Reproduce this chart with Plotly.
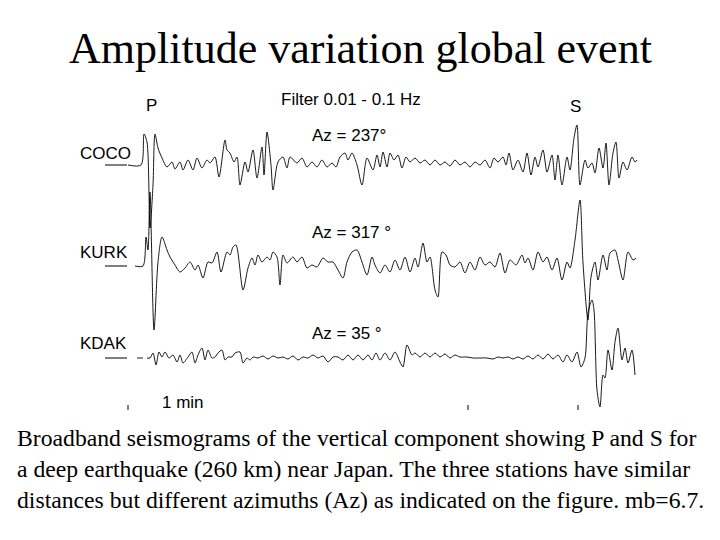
import plotly.graph_objects as go

# ---------------- data ----------------
# time samples (trace time units) and amplitudes (up positive) for each station
coco_t = [128, 141, 144, 147, 150, 153, 155, 158, 162, 167, 172, 175, 180, 183, 188, 193, 197, 202, 207, 210,
          215, 219, 225, 227, 230, 234, 237, 240, 245, 248, 253, 257, 262, 264, 267, 271, 273, 278, 283, 287,
          290, 297, 302, 307, 312, 317, 322, 327, 332, 336, 340, 345, 348, 352, 357, 362, 367, 373, 377, 380,
          383, 387, 390, 394, 398, 402, 406, 410, 415, 420, 425, 430, 435, 440, 445, 450, 455, 460, 465, 470,
          475, 480, 485, 490, 494, 498, 503, 506, 509, 513, 518, 523, 527, 531, 535, 538, 543, 547, 552, 555,
          558, 562, 567, 570, 574, 577, 580, 585, 588, 592, 595, 599, 603, 606, 609, 613, 616, 619, 623, 627,
          632, 635, 637]
coco_a = [0, 0, 31, 23, -63, -20, 31, 17, 7, -2, 3, -4, 3, -5, 5, -5, 7, -3, 5, 2,
          8, -12, 25, 15, 12, 3, 8, -20, 3, -7, 15, -13, 18, -10, 33, 0, -25, 3, 8, -3,
          8, 2, 7, -2, 3, -2, 5, -2, 2, -2, 8, 12, 5, 12, 0, -20, 7, -5, 10, -2,
          13, -2, 12, 5, 10, -3, 8, 3, 7, 2, 5, 0, 5, 0, 3, -1, 5, 0, 3, -2,
          3, 0, 5, -3, 7, 3, 8, 0, 12, -5, 5, -7, 12, -10, 8, -2, 15, -7, 10, -15,
          10, -20, 8, -5, 27, 40, -20, 5, -3, 2, -8, 17, -3, 22, -20, 12, 23, -13, 3, -5,
          8, 3, 5]

kurk_t = [135, 143, 146, 148, 150, 154, 158, 162, 167, 170, 175, 180, 185, 190, 195, 198, 203, 208, 212, 217,
          221, 227, 230, 233, 236, 243, 248, 252, 255, 258, 262, 267, 270, 273, 277, 280, 283, 287, 293, 297,
          302, 307, 312, 317, 323, 328, 333, 338, 343, 347, 352, 357, 362, 367, 372, 375, 380, 385, 390, 395,
          400, 405, 410, 415, 418, 423, 427, 430, 435, 438, 442, 446, 450, 455, 460, 465, 470, 475, 480, 485,
          490, 495, 500, 505, 510, 516, 522, 525, 528, 533, 538, 543, 547, 552, 557, 562, 567, 570, 575, 580,
          583, 588, 591, 595, 598, 603, 607, 610, 615, 618, 623, 628, 633, 636]
kurk_a = [0, 0, 29, 16, 74, -64, 4, 29, 16, 9, 1, -6, -2, 4, -4, 1, -12, 4, 3, 14,
          -6, 14, 11, 19, 21, -24, -2, 8, 1, 11, 4, 9, 6, 14, 9, -19, 11, 3, 9, 4,
          9, -2, 1, -1, 8, 4, 4, -4, -12, 4, 14, 16, 4, -9, 9, 1, -7, 1, -6, 6,
          -4, 9, -6, 8, -1, 23, 4, 9, -24, -31, 14, 11, 1, -1, 4, -7, 4, -4, 9, 1,
          4, -1, 13, -7, 6, 1, 11, 3, 8, -4, 14, 4, 9, -4, 8, -14, 4, -2, 26, 66,
          3, -54, -11, 4, -14, 11, -4, 13, 16, 6, -14, 14, 6, 8]

kdak_t = [137, 143, None, 147, 150, 153, 156, 159, 162, 165, 169, 173, 177, 180, 183, 188, 192, 195, 198, 202,
          205, 208, 212, 215, 218, 222, 225, 228, 232, 235, 240, 243, 247, 250, 253, 258, 263, 268, 273, 278,
          283, 288, 293, 298, 303, 308, 313, 318, 323, 328, 333, 338, 343, 348, 353, 358, 363, 368, 372, 376,
          380, 385, 390, 395, 400, 403, 407, 412, 415, 420, 425, 430, 435, 440, 445, 450, 455, 460, 467, 473,
          480, 487, 493, 498, 503, 508, 513, 518, 523, 528, 533, 538, 543, 548, 553, 558, 563, 567, 572, 577,
          581, 585, 588, 592, 594, 597, 600, 603, 605, 608, 612, 615, 618, 622, 625, 628, 632, 635]
kdak_a = [0, 0, None, 0, 0, 5, -7, 6, 1, 6, 0, 3, -4, 3, -5, 1, 6, -5, 3, 10,
          -2, 8, 0, 1, 5, 8, -2, 1, 1, 5, 6, -5, 0, -2, 1, 0, 2, -1, 2, 0,
          1, -1, 2, -2, 1, 0, 3, 0, 2, -4, 1, 1, -2, 3, -2, 3, -2, 3, -2, 5,
          -2, 5, -2, 6, -4, -9, 13, 3, 5, 1, 5, 1, 5, 1, 4, 0, 3, 1, 1, 0,
          0, 0, -1, 1, 0, 1, -1, 1, -1, 2, -1, 3, -1, 4, -1, 3, -4, 3, -4, 6,
          -9, 0, 45, 58, 48, -32, -49, -17, -20, 8, -12, 16, 30, -2, 10, -5, 8, -17]

stations = ["COCO", "KURK", "KDAK"]
azimuth_labels = ["Az = 237°", "Az = 317 °", "Az = 35 °"]
ref_line_t = [105, 127]          # zero-level reference marks beside station names
time_marks = [128, 468, 578]     # small time marks under the record

title_text = "Amplitude variation global event"
caption_lines = [
    "Broadband seismograms of the vertical component showing P and S for",
    "a deep earthquake (260 km) near Japan. The three stations have similar",
    "distances but different azimuths (Az) as indicated on the figure. mb=6.7.",
]

# ---------------- layout constants ----------------
W, H = 720, 540
PAGE_MARGIN = 8                  # default browser body margin around the figure
baseline = {"COCO": 165, "KURK": 266, "KDAK": 358}     # vertical offsets of traces
station_label_y = {"COCO": 153, "KURK": 252, "KDAK": 343}
az_label_y = {"COCO": 135, "KURK": 232, "KDAK": 333}
SANS = "Liberation Sans, Arial, sans-serif"
SERIF = "Liberation Serif, Times New Roman, serif"
PANEL_FONT = 17

series = {
    "COCO": (coco_t, coco_a),
    "KURK": (kurk_t, kurk_a),
    "KDAK": (kdak_t, kdak_a),
}

fig = go.Figure()

for st in stations:
    t, a = series[st]
    off = -baseline[st]
    y = [None if v is None else off + v for v in a]
    fig.add_trace(go.Scatter(
        x=t, y=y, mode="lines",
        line=dict(color="black", width=0.9, shape="spline", smoothing=0.8),
        connectgaps=False, hoverinfo="skip", showlegend=False))
    # zero reference mark
    fig.add_trace(go.Scatter(
        x=ref_line_t, y=[off, off], mode="lines",
        line=dict(color="black", width=1), hoverinfo="skip", showlegend=False))

# time marks
mx, my = [], []
for tm in time_marks:
    mx += [tm, tm, None]
    my += [-405, -410, None]
fig.add_trace(go.Scatter(x=mx, y=my, mode="lines", line=dict(color="black", width=1),
                         hoverinfo="skip", showlegend=False))

ann = []
def txt(x, y, s, size, font=SANS, xanchor="center", yanchor="middle"):
    ann.append(dict(x=x, y=-y, xref="x", yref="y", text=s, showarrow=False,
                    xanchor=xanchor, yanchor=yanchor,
                    font=dict(family=font, size=size, color="black")))

txt(360, 48, title_text, 44, SERIF)
txt(151, 105, "P", PANEL_FONT)
txt(575, 106, "S", PANEL_FONT)
txt(351, 99, "Filter 0.01 - 0.1 Hz", PANEL_FONT)
for st, az in zip(stations, azimuth_labels):
    txt(78, station_label_y[st], st, PANEL_FONT, xanchor="left")
    txt(310, az_label_y[st], az, PANEL_FONT, xanchor="left")
txt(160, 402, "1 min", PANEL_FONT, xanchor="left")
for i, line in enumerate(caption_lines):
    txt(15, 438 + 31 * i, line, 23.7, SERIF, xanchor="left")

fig.update_layout(
    width=W - 2 * PAGE_MARGIN, height=H - 2 * PAGE_MARGIN,
    margin=dict(l=0, r=0, t=0, b=0),
    paper_bgcolor="white", plot_bgcolor="white",
    xaxis=dict(range=[PAGE_MARGIN, W - PAGE_MARGIN], visible=False, fixedrange=True),
    yaxis=dict(range=[-(H - PAGE_MARGIN), -PAGE_MARGIN], visible=False, fixedrange=True),
    annotations=ann,
    showlegend=False,
)

fig.write_html("out.html")
